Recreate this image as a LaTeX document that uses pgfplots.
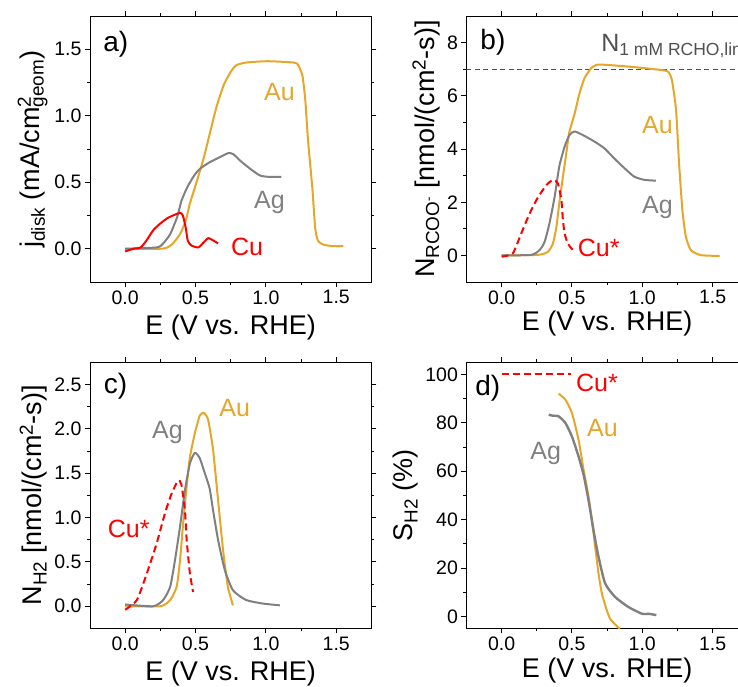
\documentclass[border=0pt]{standalone}
\usepackage{fontspec}
\setmainfont{Liberation Sans}
\usepackage{pgfplots}
\pgfplotsset{compat=1.18}

\definecolor{au}{RGB}{230,166,42}
\definecolor{ag}{RGB}{128,128,128}
\definecolor{cu}{RGB}{255,0,0}
\definecolor{limgray}{RGB}{80,80,80}
\newcommand{\tfs}{\fontsize{19.5}{22}\selectfont}
\newcommand{\lfs}{\fontsize{27}{30}\selectfont}
\newcommand{\cfs}{\fontsize{25}{28}\selectfont}

\tikzset{
  lab/.style={font=\cfs, anchor=base},
  plab/.style={font=\fontsize{28}{30}\selectfont, anchor=west},
}
\pgfplotsset{
  panel/.style={
    scale only axis, width=281.4pt, height=266pt,
    xmin=-0.25, xmax=1.75, xtick={0,0.5,1,1.5}, minor x tick num=1,
    tick align=outside, major tick length=5pt, minor tick length=3pt,
    axis line style={line width=0.9pt},
    every tick/.append style={black, line width=0.9pt},
    tick label style={font=\tfs},
    label style={font=\lfs},
    xlabel={E (V vs. RHE)},
    xticklabel style={/pgf/number format/.cd, fixed, fixed zerofill, precision=1},
    /pgf/number format/assume math mode=true,
    clip mode=individual,
  },
  au/.style={color=au, line width=2pt, smooth, tension=0.35, line join=round},
  ag/.style={color=ag, line width=2pt, smooth, tension=0.35, line join=round},
  cus/.style={color=cu, line width=2pt, smooth, tension=0.35, line join=round},
  cud/.style={color=cu, line width=2pt, dash pattern=on 7pt off 4pt},
}

\begin{document}
\begin{tikzpicture}
\useasboundingbox (0,0) rectangle (738pt,-687pt);
\clip (0,0) rectangle (738pt,-687pt);

% a) disk current
\begin{axis}[panel, at={(90pt,-282pt)}, anchor=south west,
    xlabel style={yshift=-4pt},
    ymin=-0.25, ymax=1.75, ytick={0,0.5,1,1.5}, minor y tick num=1,
    yticklabel style={/pgf/number format/.cd, fixed, fixed zerofill, precision=1},
    ylabel={j\textsubscript{disk} (mA/cm\rlap{\textsuperscript{2}}\textsubscript{geom})}]
\addplot[au] coordinates {
 (0,0) (0.25,0.0) (0.30,0.01) (0.34,0.04) (0.39,0.11) (0.43,0.21) (0.46,0.34)
 (0.51,0.51) (0.56,0.69) (0.60,0.86) (0.65,1.07) (0.70,1.23) (0.75,1.33)
 (0.79,1.38) (0.86,1.40) (1.01,1.41) (1.20,1.40) (1.23,1.38) (1.26,1.30)
 (1.28,1.12) (1.30,0.81) (1.33,0.46) (1.35,0.16) (1.37,0.06) (1.41,0.03)
 (1.48,0.02) (1.55,0.02)};
\addplot[ag] coordinates {
 (0,0) (0.225,0.01) (0.27,0.04) (0.32,0.11) (0.37,0.24) (0.40,0.36) (0.44,0.46)
 (0.49,0.55) (0.53,0.60) (0.60,0.65) (0.675,0.69) (0.735,0.72) (0.77,0.71)
 (0.82,0.66) (0.89,0.60) (0.96,0.55) (1.03,0.54) (1.11,0.54)};
\addplot[cus] coordinates {
 (0,-0.02) (0.06,0.0) (0.11,0.01) (0.15,0.06) (0.20,0.14) (0.25,0.19) (0.30,0.23)
 (0.34,0.25) (0.39,0.27) (0.41,0.25) (0.43,0.16) (0.445,0.06) (0.47,0.025)
 (0.52,0.01) (0.56,0.05) (0.59,0.08) (0.63,0.06) (0.66,0.04)};
\node[plab] at (axis cs:-0.18,1.54) {a)};
\node[lab, text=au] at (axis cs:1.097,1.118) {Au};
\node[lab, text=ag] at (axis cs:1.026,0.304) {Ag};
\node[lab, text=cu] at (axis cs:0.867,-0.05) {Cu};
\end{axis}

% b) formate flux
\begin{axis}[panel, at={(466.4pt,-282pt)}, anchor=south west,
    ymin=-1, ymax=9, ytick={0,2,4,6,8}, minor y tick num=1,
    ylabel={N\textsubscript{RCOO\textsuperscript{-}} [nmol/(cm\textsuperscript{2}-s)]}]
\addplot[limgray, line width=0.8pt, dash pattern=on 5pt off 3.5pt] coordinates {(-0.25,7) (1.75,7)};
\addplot[au] coordinates {
 (0,0) (0.26,0.02) (0.33,0.14) (0.365,0.45) (0.39,1.08) (0.41,1.96) (0.436,2.96)
 (0.46,3.84) (0.48,4.6) (0.52,5.35) (0.554,6.1) (0.59,6.67) (0.637,7.04)
 (0.68,7.17) (0.78,7.15) (0.94,7.08) (1.085,7.0) (1.18,6.92) (1.21,6.6)
 (1.24,5.47) (1.26,3.59) (1.285,1.7) (1.31,0.7) (1.345,0.2) (1.415,0.01) (1.55,-0.02)};
\addplot[ag] coordinates {
 (0,0) (0.21,0.02) (0.27,0.2) (0.306,0.51) (0.34,1.2) (0.377,2.2) (0.41,3.34)
 (0.448,4.09) (0.483,4.53) (0.52,4.66) (0.59,4.49) (0.66,4.28) (0.73,4.03)
 (0.80,3.65) (0.873,3.28) (0.943,2.96) (1.015,2.84) (1.096,2.81)};
\addplot[cud, smooth, tension=0.35] coordinates {
 (0,-0.05) (0.08,0.08) (0.14,0.83) (0.2,1.58) (0.26,2.2) (0.32,2.65) (0.365,2.84)
 (0.40,2.71) (0.425,2.08) (0.436,1.33) (0.448,0.83) (0.47,0.45) (0.507,0.2)};
\node[plab] at (axis cs:-0.175,8.0) {b)};
\node[font=\cfs, anchor=base west, text=limgray] at (axis cs:0.684,7.67) {N\textsubscript{1 mM RCHO,lim}};
\node[lab, text=au] at (axis cs:1.108,4.59) {Au};
\node[lab, text=ag] at (axis cs:1.108,1.58) {Ag};
\node[lab, text=cu] at (axis cs:0.69,-0.05) {Cu*};
\end{axis}

% c) hydrogen flux
\begin{axis}[panel, at={(90pt,-628.4pt)}, anchor=south west,
    xlabel style={yshift=-3pt},
    ymin=-0.25, ymax=2.75, ytick={0,0.5,1,1.5,2,2.5}, minor y tick num=1,
    yticklabel style={/pgf/number format/.cd, fixed, fixed zerofill, precision=1},
    ylabel={N\textsubscript{H2} [nmol/(cm\textsuperscript{2}-s)]}]
\addplot[au] coordinates {
 (0,0) (0.25,0) (0.32,0.07) (0.366,0.22) (0.39,0.52) (0.41,0.9) (0.437,1.35)
 (0.46,1.68) (0.495,1.95) (0.53,2.15) (0.56,2.18) (0.59,2.1) (0.625,1.76)
 (0.66,1.2) (0.696,0.63) (0.73,0.22) (0.766,0.01)};
\addplot[ag] coordinates {
 (0,0.02) (0.2,0) (0.27,0.07) (0.32,0.22) (0.354,0.52) (0.39,0.9) (0.425,1.31)
 (0.46,1.61) (0.495,1.73) (0.53,1.67) (0.566,1.5) (0.6,1.33) (0.625,1.08)
 (0.66,0.75) (0.708,0.41) (0.766,0.18) (0.86,0.07) (0.98,0.03) (1.1,0.01)};
\addplot[cud, smooth, tension=0.35] coordinates {
 (0,-0.04) (0.083,0.07) (0.154,0.37) (0.224,0.71) (0.283,1.05) (0.33,1.27)
 (0.377,1.42) (0.4,1.37) (0.425,1.08) (0.437,0.75) (0.46,0.37) (0.483,0.16)};
\node[plab] at (axis cs:-0.177,2.48) {c)};
\node[lab, text=au] at (axis cs:0.778,2.135) {Au};
\node[lab, text=ag] at (axis cs:0.30,1.89) {Ag};
\node[lab, text=cu] at (axis cs:0.025,0.78) {Cu*};
\end{axis}

% d) H2 selectivity
\begin{axis}[panel, at={(466.4pt,-628.4pt)}, anchor=south west,
    ymin=-5, ymax=105, ytick={0,20,40,60,80,100}, minor y tick num=1,
    ylabel={S\textsubscript{H2} (\%)}]
\addplot[cud] coordinates {(0,100) (0.49,100)};
\addplot[au] coordinates {
 (0.405,92.1) (0.453,89.6) (0.5,84.1) (0.547,73) (0.583,60.6) (0.618,49.5)
 (0.642,39.8) (0.665,28.8) (0.689,17.7) (0.713,9.4) (0.748,2.5) (0.771,-1)
 (0.81,-3.5) (0.84,-5.2)};
\addplot[ag, line width=2.4pt] coordinates {
 (0.335,83.4) (0.36,83.0) (0.405,82.7) (0.453,80) (0.5,74.4) (0.547,66.1)
 (0.583,58.5) (0.618,48) (0.653,35.7) (0.689,24.6) (0.736,13.6) (0.807,8)
 (0.9,3.9) (0.996,1.1) (1.05,1.0) (1.1,0.5)};
\node[plab] at (axis cs:-0.212,94.2) {d)};
\node[lab, text=cu] at (axis cs:0.678,93.1) {Cu*};
\node[lab, text=au] at (axis cs:0.717,74.4) {Au};
\node[lab, text=ag] at (axis cs:0.314,64.7) {Ag};
\end{axis}
\end{tikzpicture}
\end{document}
